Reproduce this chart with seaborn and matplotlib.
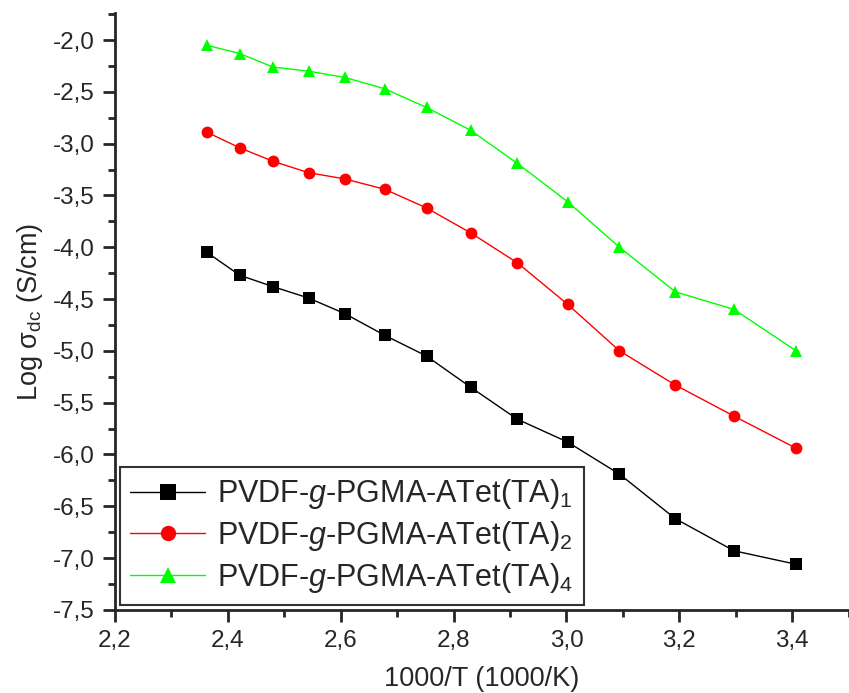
import pandas as pd
import matplotlib
matplotlib.use("Agg")
import matplotlib.pyplot as plt
import seaborn as sns
from matplotlib.ticker import MultipleLocator, FuncFormatter

# data
inv_t = [2.363, 2.421, 2.480, 2.543, 2.607, 2.678, 2.752, 2.830, 2.913, 3.002, 3.094, 3.193, 3.297, 3.407]
ta1 = [-4.05, -4.27, -4.38, -4.49, -4.64, -4.85, -5.05, -5.35, -5.66, -5.88, -6.19, -6.62, -6.93, -7.06]
ta2 = [-2.89, -3.04, -3.17, -3.28, -3.34, -3.44, -3.62, -3.86, -4.15, -4.55, -5.00, -5.33, -5.63, -5.94]
ta4 = [-2.05, -2.13, -2.26, -2.30, -2.36, -2.47, -2.65, -2.87, -3.19, -3.56, -4.00, -4.43, -4.60, -5.00]
labels = ["PVDF-$g$-PGMA-ATet(TA)$_1$", "PVDF-$g$-PGMA-ATet(TA)$_2$", "PVDF-$g$-PGMA-ATet(TA)$_4$"]
colors = ["#000000", "#ff0000", "#00ff00"]
markers = ["s", "o", "^"]

df = pd.concat([pd.DataFrame({"x": inv_t, "y": v, "Sample": lab})
                for v, lab in zip([ta1, ta2, ta4], labels)])

sns.set_style("ticks")
plt.rcParams['font.family'] = ['Liberation Sans', 'DejaVu Sans']
plt.rcParams['mathtext.fontset'] = 'custom'
plt.rcParams['mathtext.rm'] = 'Liberation Sans'
plt.rcParams['mathtext.it'] = 'Liberation Sans:italic'

fig = plt.figure(figsize=(8.49, 6.93), dpi=100)
ax = fig.add_axes([0.1355, 0.12, 0.864, 0.861])

sns.lineplot(data=df, x="x", y="y", hue="Sample", style="Sample",
             palette=colors, markers=markers, dashes=False,
             markersize=8.5, markeredgewidth=0, linewidth=1, ax=ax)

ax.set_xlim(2.2, 3.5)
ax.set_ylim(-7.5, -1.74)
ax.xaxis.set_major_locator(MultipleLocator(0.2))
ax.xaxis.set_minor_locator(MultipleLocator(0.1))
ax.yaxis.set_major_locator(MultipleLocator(0.5))
ax.yaxis.set_minor_locator(MultipleLocator(0.25))
comma = FuncFormatter(lambda v, p: f"{v:.1f}".replace(".", ","))
ax.xaxis.set_major_formatter(comma)
ax.yaxis.set_major_formatter(comma)

for s in ["top", "right"]:
    ax.spines[s].set_visible(False)
for s in ["left", "bottom"]:
    ax.spines[s].set_linewidth(2)
ax.tick_params(which="major", direction="out", length=8.5, width=2, labelsize=17.5, pad=6)
ax.tick_params(which="minor", direction="out", length=5, width=2)

ax.set_xlabel("1000/T (1000/K)", fontsize=19.5, labelpad=10)
ax.set_ylabel(r"Log σ$_{\mathrm{dc}}$ (S/cm)", fontsize=19.5, labelpad=6)

leg = ax.legend(loc="lower left", bbox_to_anchor=(0.0, 0.0), fontsize=22,
                frameon=True, fancybox=False, edgecolor="black",
                handlelength=2.45, handletextpad=0.4, markerscale=1.3,
                borderaxespad=0.15, labelspacing=0.25, borderpad=0.35)
leg.get_frame().set_linewidth(1.5)

fig.savefig("out.png", dpi=100)
